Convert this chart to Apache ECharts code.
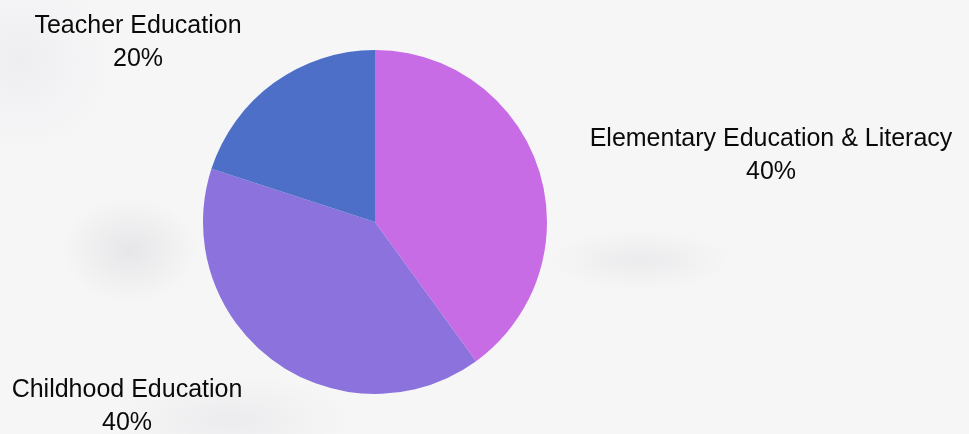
<!DOCTYPE html>
<html>
<head>
<meta charset="utf-8">
<script src="https://cdn.jsdelivr.net/npm/echarts@6/dist/echarts.min.js"></script>
<style>
html,body{margin:0;padding:0;}
body{
  width:969px;height:434px;overflow:hidden;
  background:
    radial-gradient(ellipse 90px 70px at 130px 250px, rgba(175,175,180,0.22), rgba(255,255,255,0) 75%),
    radial-gradient(ellipse 120px 40px at 640px 260px, rgba(185,185,190,0.18), rgba(255,255,255,0) 75%),
    radial-gradient(ellipse 160px 60px at 230px 420px, rgba(195,195,200,0.2), rgba(255,255,255,0) 75%),
    radial-gradient(ellipse 120px 120px at 20px 60px, rgba(215,215,225,0.25), rgba(255,255,255,0) 75%),
    #f6f6f7;
}
#chart{width:969px;height:434px;}
</style>
</head>
<body>
<div id="chart"></div>
<script>
const categories = ["Elementary Education & Literacy", "Childhood Education", "Teacher Education"];
const values = [40, 40, 20];
const colors = ["#C86CE6", "#8C72DD", "#4D6FC7"];

// label block centres (layout only)
const labelCentres = [[771, 156], [127, 407], [138, 43]];

const chart = echarts.init(document.getElementById('chart'), null, {renderer: 'canvas'});
chart.setOption({
  backgroundColor: 'transparent',
  animation: false,
  series: [{
    type: 'pie',
    center: [375, 222],
    radius: 172,
    startAngle: 90,
    clockwise: true,
    data: categories.map((c, i) => ({name: c, value: values[i], itemStyle: {color: colors[i]}})),
    label: {
      show: true,
      position: 'outside',
      formatter: p => p.name + '\n' + p.value + '%',
      color: '#0a0a0a',
      fontFamily: 'Liberation Sans, Arial, sans-serif',
      fontSize: 25,
      lineHeight: 33,
      align: 'center',
      overflow: 'none',
      width: 600
    },
    labelLine: {show: false},
    labelLayout: function (params) {
      const c = labelCentres[params.dataIndex];
      return {x: c[0], y: c[1], align: 'center', verticalAlign: 'middle'};
    },
    emphasis: {disabled: true}
  }]
});
</script>
</body>
</html>
